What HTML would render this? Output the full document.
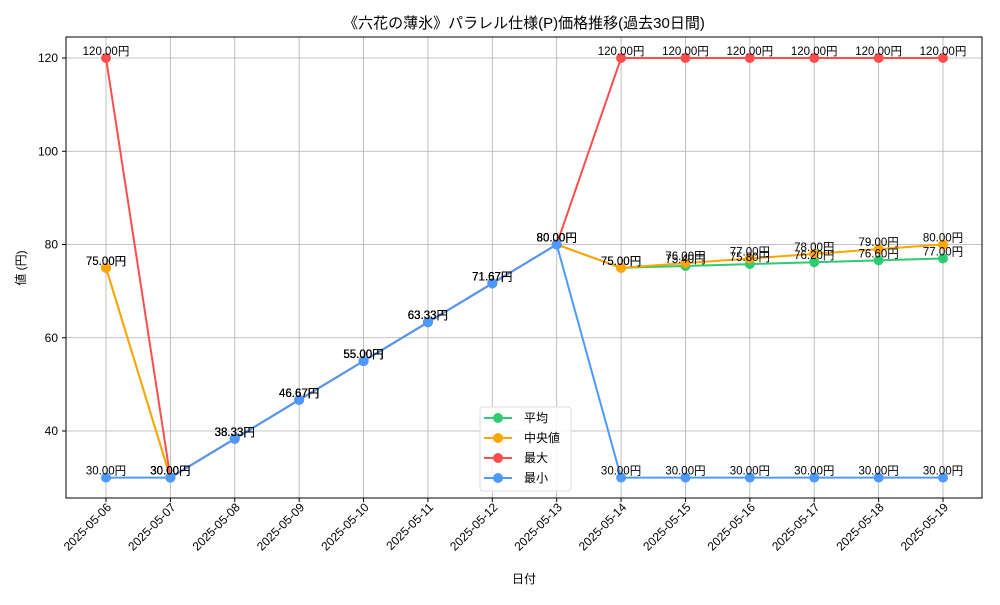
<!DOCTYPE html>
<html><head><meta charset="utf-8"><style>
body{margin:0;background:#fff;}
svg text{font-family:"Liberation Sans","Noto Sans CJK JP",sans-serif;fill:#000;}
</style></head><body>
<svg id="chart" width="1000" height="600" viewBox="0 0 1000 600"></svg>
<script>
const categories=["2025-05-06","2025-05-07","2025-05-08","2025-05-09","2025-05-10","2025-05-11","2025-05-12","2025-05-13","2025-05-14","2025-05-15","2025-05-16","2025-05-17","2025-05-18","2025-05-19"];
const avgValues=[75,30,38.33,46.67,55,63.33,71.67,80,75,75.4,75.8,76.2,76.6,77];
const medianValues=[75,30,38.33,46.67,55,63.33,71.67,80,75,76,77,78,79,80];
const maxValues=[120,30,38.33,46.67,55,63.33,71.67,80,120,120,120,120,120,120];
const minValues=[30,30,38.33,46.67,55,63.33,71.67,80,30,30,30,30,30,30];
const yTicks=[40,60,80,100,120];
const seriesNames=["平均","中央値","最大","最小"];

const NS="http://www.w3.org/2000/svg";
const svg=document.getElementById('chart');
const L=66,R=982,T=37,B=498;
const x0=106,dx=(943-106)/13;
function xs(i){return x0+i*dx;}
function ys(v){return 431-(v-40)*(373/80);}
function mk(tag,attrs,parent){const e=document.createElementNS(NS,tag);for(const k in attrs)e.setAttribute(k,attrs[k]);(parent||svg).appendChild(e);return e;}

// grid
categories.forEach((c,i)=>{const g=mk('line',{x1:xs(i),x2:xs(i),y1:T,y2:B,stroke:'#b0b0b0','stroke-width':0.8});

});
yTicks.forEach(v=>{const g=mk('line',{x1:L,x2:R,y1:ys(v),y2:ys(v),stroke:'#b0b0b0','stroke-width':0.8});

});
const frame=mk('rect',{x:L,y:T,width:R-L,height:B-T,fill:'none',stroke:'#000','stroke-width':1});



// ticks
yTicks.forEach(v=>{mk('line',{x1:L-4,x2:L,y1:ys(v),y2:ys(v),stroke:'#000'});
const t=mk('text',{x:L-8,y:ys(v)+4,'text-anchor':'end','font-size':12});t.textContent=v;

});
categories.forEach((c,i)=>{mk('line',{x1:xs(i),x2:xs(i),y1:B,y2:B+4,stroke:'#000'});
const t=mk('text',{x:0,y:0,'text-anchor':'end','font-size':12,transform:`translate(${xs(i)+6},${B+10}) rotate(-45)`});t.textContent=c;

});

const title=mk('text',{x:524,y:28,'text-anchor':'middle','font-size':15});title.textContent='《六花の薄氷》パラレル仕様(P)価格推移(過去30日間)';


const xt=mk('text',{x:524,y:583,'text-anchor':'middle','font-size':12});xt.textContent='日付';


const yt=mk('text',{x:0,y:0,'text-anchor':'middle','font-size':12,transform:'translate(25,268) rotate(-90)'});yt.textContent='値 (円)';



const series=[[avgValues,'#2ecc71','avg'],[medianValues,'#ffa500','median'],[maxValues,'#ff4d4d','max'],[minValues,'#4d9aff','min']];
series.forEach(([vals,col,nm])=>{
  const p=mk('polyline',{points:vals.map((v,i)=>xs(i)+','+ys(v)).join(' '),fill:'none',stroke:col,'stroke-width':2});
  
  
  vals.forEach((v,i)=>{const c=mk('circle',{cx:xs(i),cy:ys(v),r:5,fill:col});
  
  });
});
series.forEach(([vals,col,nm])=>{
  vals.forEach((v,i)=>{const t=mk('text',{x:xs(i),y:ys(v)-3,'text-anchor':'middle','font-size':11.5});t.textContent=v.toFixed(2)+'円';
  
  });
});

// legend
const lg=mk('g',{});


mk('rect',{x:480,y:407,width:91,height:84,rx:3,fill:'#fff','fill-opacity':0.85,stroke:'#ddd'},lg);
series.forEach(([vals,col,nm],k)=>{
  const y=418+k*20;
  const e=mk('g',{},lg);
  
  
  mk('line',{x1:484,x2:512,y1:y,y2:y,stroke:col,'stroke-width':2},e);
  mk('circle',{cx:498,cy:y,r:5,fill:col},e);
  const t=mk('text',{x:524,y:y+4,'font-size':12},e);t.textContent=seriesNames[k];
});
</script>
</body></html>
